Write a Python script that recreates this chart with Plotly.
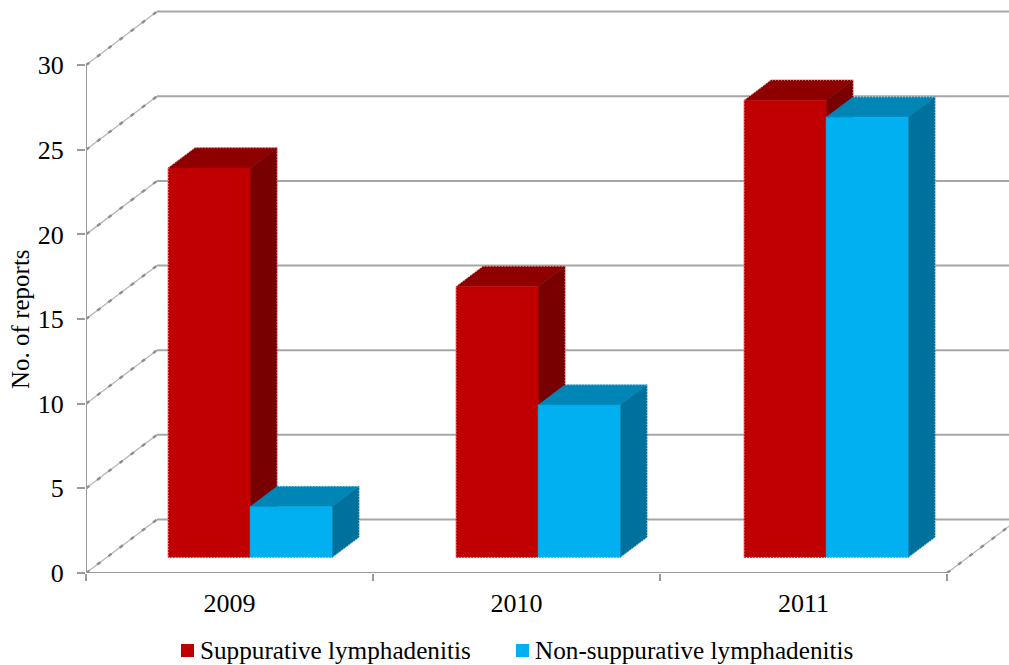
import plotly.graph_objects as go

# Chart data
years = ["2009", "2010", "2011"]
series_names = ["Suppurative lymphadenitis", "Non-suppurative lymphadenitis"]
suppurative = [23, 16, 27]
non_suppurative = [3, 9, 26]
value_ticks = [0, 5, 10, 15, 20, 25, 30]

# Face colours: front, top, side
RED = ("#c00000", "#8e0000", "#780000")
BLUE = ("#00b0f0", "#0086b6", "#00719c")
AXIS = "#9a9a9a"
FONT = "Liberation Serif"

# Page geometry in pixels
W, H = 1009, 665
LEFT, BOTTOM = 86, 92
PX_PER_CAT = 287
PX_PER_UNIT = 16.93

# Oblique projection: moving from front to back of the box shifts right and up
DEPTH_X = 71 / PX_PER_CAT
DEPTH_Y = 53.5 / PX_PER_UNIT
BAR_FRONT, BAR_BACK = 0.29, 0.67
BAR_WIDTH = 82 / PX_PER_CAT
GROUP_STEP = 288 / PX_PER_CAT


def project(x, v, depth):
    return x + depth * DEPTH_X, v + depth * DEPTH_Y


def faces(values, offset):
    """Return front, top and side polygons for one series of 3-D columns."""
    front, top, side, edge = ([], []), ([], []), ([], []), ([], [])

    def add(target, pts):
        for px, py in pts:
            target[0].append(px)
            target[1].append(py)
        target[0].append(None)
        target[1].append(None)

    for g, v in enumerate(values):
        x0 = g * GROUP_STEP + 0.5 + offset * BAR_WIDTH
        x1 = x0 + BAR_WIDTH
        fa, fb, fc, fd = (project(x0, 0, BAR_FRONT), project(x0, v, BAR_FRONT),
                          project(x1, v, BAR_FRONT), project(x1, 0, BAR_FRONT))
        bb, bc, bd = (project(x0, v, BAR_BACK), project(x1, v, BAR_BACK),
                      project(x1, 0, BAR_BACK))
        add(front, [fa, fb, fc, fd, fa])
        add(top, [fb, bb, bc, fc, fb])
        add(side, [fd, fc, bc, bd, fd])
        add(edge, [fb, fa, fd, bd, bc, bb, fb] if offset < 0 else [fa, fd, bd, bc, bb])
    return front, top, side, edge


fig = go.Figure()


def polygon(shape, colour):
    fig.add_trace(go.Scatter(x=shape[0], y=shape[1], mode="lines", fill="toself",
                             fillcolor=colour, line=dict(color=colour, width=0.5),
                             hoverinfo="skip", showlegend=False))


def rule(xs, ys, colour=AXIS, width=1.6, dash="solid", clip=True):
    fig.add_trace(go.Scatter(x=xs, y=ys, mode="lines", cliponaxis=clip,
                             line=dict(color=colour, width=width, dash=dash),
                             hoverinfo="skip", showlegend=False))


# Walls: a diagonal on the side wall and a horizontal rule on the back wall
for v in value_ticks:
    bx, by = project(0, v, 1)
    rule([0, bx], [v, by], "#b5b5b5", 1.3)
    rule([0, bx], [v, by], "#8e8e8e", 2.4, "4px,10px")
    rule([bx, 3.4], [by, by], "#a6a6a6", 2)

# Floor edge at the right side
fx, fy = project(3, 0, 1)
rule([3, fx], [0, fy], "#b5b5b5", 1.3)
rule([3, fx], [0, fy], "#8e8e8e", 2.4, "4px,10px")

# Axis lines
rule([0, 0], [0, value_ticks[-1]], AXIS, 2, clip=False)
rule([0, 3], [0, 0], AXIS, 2, clip=False)

# Columns, drawn back to front within each group
for values, offset, (c_front, c_top, c_side), dots in (
    (suppurative, -1, RED, "#f3c4c4"),
    (non_suppurative, 0, BLUE, "#bfe6f5"),
):
    front, top, side, edge = faces(values, offset)
    polygon(top, c_top)
    polygon(side, c_side)
    polygon(front, c_front)
    fig.add_trace(go.Scatter(x=edge[0], y=edge[1], mode="lines",
                             line=dict(color=dots, width=1, dash="1px,2px"),
                             hoverinfo="skip", showlegend=False))


def page_x(px):
    return (px - LEFT) / (W - LEFT)


def page_y(py):
    return (H - BOTTOM - py) / (H - BOTTOM)


# Legend row below the plot
shapes, notes = [], []
for name, colour, sw_left, text_left in (
    (series_names[0], RED[0], 181, 198),
    (series_names[1], BLUE[0], 516, 533),
):
    shapes.append(dict(type="rect", xref="paper", yref="paper", layer="above",
                       x0=page_x(sw_left), x1=page_x(sw_left + 13),
                       y0=page_y(644), y1=page_y(657),
                       fillcolor=colour, line=dict(width=0)))
    notes.append(dict(text=name, xref="paper", yref="paper", showarrow=False,
                      x=page_x(text_left), y=page_y(650), xanchor="left", yanchor="middle",
                      font=dict(family=FONT, size=25.2, color="#000000")))

# Value axis title
notes.append(dict(text="No. of reports", xref="paper", yref="paper", showarrow=False,
                  x=page_x(20), y=page_y(319), xanchor="center", yanchor="middle",
                  textangle=-90, font=dict(family=FONT, size=25, color="#000000")))

fig.update_layout(
    width=W, height=H, autosize=False,
    margin=dict(l=LEFT, r=0, t=0, b=BOTTOM),
    paper_bgcolor="#ffffff", plot_bgcolor="#ffffff",
    showlegend=False, shapes=shapes, annotations=notes,
    font=dict(family=FONT, size=26, color="#000000"),
    xaxis=dict(range=[0, (W - LEFT) / PX_PER_CAT], tickmode="array",
               tickvals=[0.5, 1.5, 2.5], ticktext=years, ticks="", showgrid=False,
               zeroline=False, showline=False, ticklabelstandoff=12,
               minor=dict(tickmode="array", tickvals=[0, 1, 2, 3], ticks="outside",
                          ticklen=7, tickwidth=2, tickcolor=AXIS, showgrid=False)),
    yaxis=dict(range=[0, (H - BOTTOM) / PX_PER_UNIT], tickmode="array",
               tickvals=value_ticks, ticks="outside", ticklen=8, tickwidth=2,
               tickcolor=AXIS, showgrid=False, zeroline=False, showline=False,
               ticklabelstandoff=8),
)

fig.write_html("out.html")
